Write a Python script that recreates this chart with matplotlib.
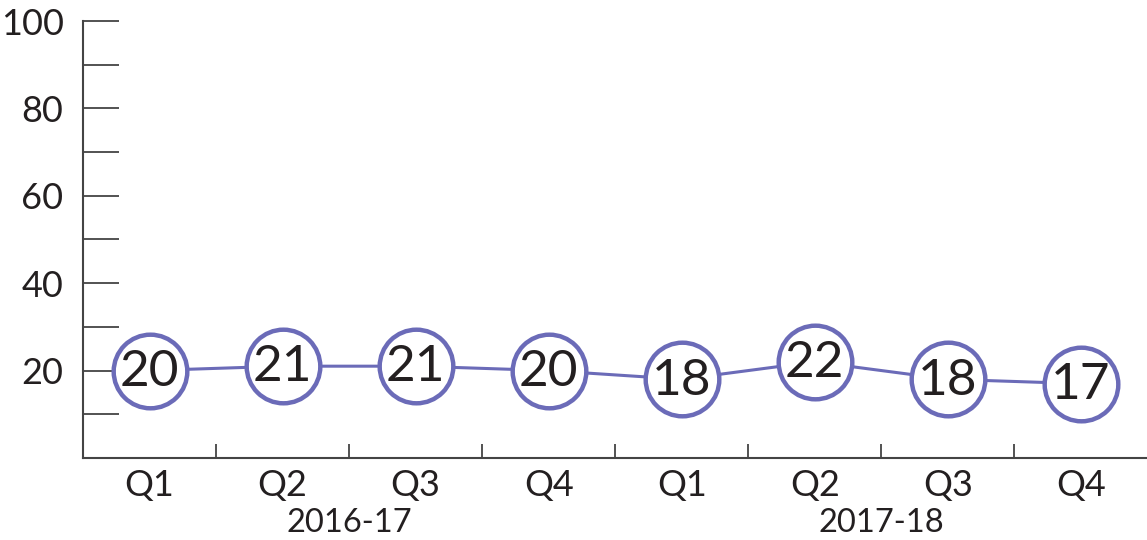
import matplotlib.pyplot as plt
import numpy as np

plt.rcParams['font.family'] = ['Lato', 'DejaVu Sans']

quarters = ['Q1', 'Q2', 'Q3', 'Q4', 'Q1', 'Q2', 'Q3', 'Q4']
years = ['2016-17', '2017-18']
values = [20, 21, 21, 20, 18, 22, 18, 17]

purple = '#6b6bb8'
dark = '#231f20'

fig = plt.figure(figsize=(11.47, 5.4), dpi=100)
ax = fig.add_axes([0.0724, 0.152, 0.928, 0.809])

x = np.arange(len(values))
ax.plot(x, values, color=purple, lw=2.2, zorder=2)
ax.plot(x, values, 'o', ms=53, mfc='white', mec=purple, mew=3.2, zorder=3)
for xi, v in zip(x, values):
    ax.text(xi, v - 0.3, str(v), ha='center', va='center', fontsize=37,
            color=dark, zorder=4)

ax.set_xlim(-0.5, 7.5)
ax.set_ylim(0, 100)

for s in ['top', 'right']:
    ax.spines[s].set_visible(False)
for s in ['left', 'bottom']:
    ax.spines[s].set_color('#444444')
    ax.spines[s].set_linewidth(1.5)

# y ticks every 10, labels every 20 from 20
ax.set_yticks(np.arange(0, 101, 10))
ax.set_yticklabels(['' if (t == 0 or t % 20) else str(t) for t in range(0, 101, 10)])
ax.tick_params(axis='y', direction='in', length=26, width=1.3, color='#444444',
               labelsize=26, labelcolor=dark, pad=14)

# x ticks at category boundaries, labels at centres
ax.set_xticks(np.arange(0.5, 7, 1))
ax.set_xticklabels([])
ax.tick_params(axis='x', direction='in', length=10, width=1.3, color='#444444')
ax.set_xticks(x, minor=True)
ax.set_xticklabels(quarters, minor=True)
ax.tick_params(axis='x', which='minor', length=0, labelsize=26,
               labelcolor=dark, pad=8)

for xc, yr in zip([1.5, 5.5], years):
    ax.text(xc, -0.148, yr, transform=ax.get_xaxis_transform(), ha='center',
            va='center', fontsize=23.5, color=dark)

fig.savefig('out.png')
